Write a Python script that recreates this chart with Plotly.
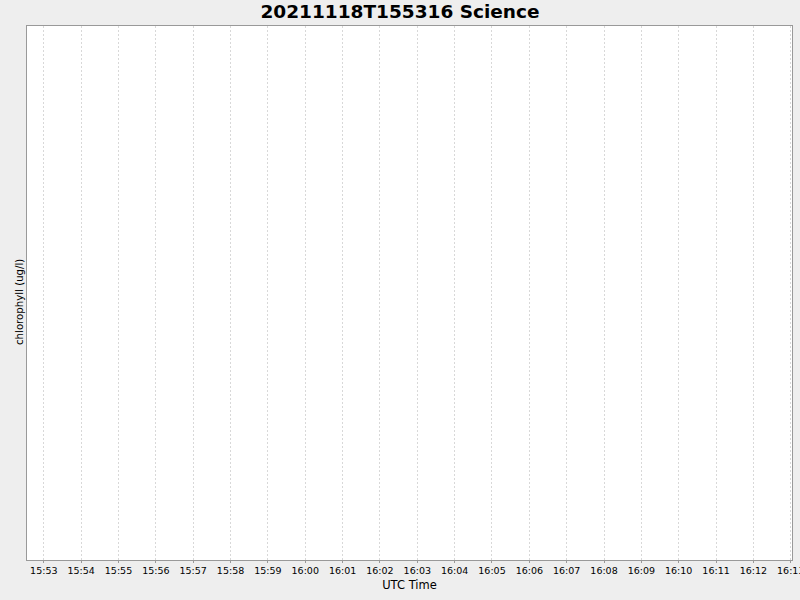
import plotly.graph_objects as go

# Data (the reference chart contains no plotted values)
times = []
chlorophyll = []

title_text = "20211118T155316 Science"
x_title = "UTC Time"
y_title = "chlorophyll (ug/l)"
x_start = "2021-11-18 15:52:33"
x_end = "2021-11-18 16:13:02"

W, H = 800, 600
ML, MR, MT, MB = 27, 8, 26, 40
plot_w = W - ML - MR
plot_h = H - MT - MB

fig = go.Figure()
fig.add_trace(go.Scatter(x=times, y=chlorophyll, mode="lines",
                         line=dict(color="#ff0000"), showlegend=False))

fig.update_layout(
    width=W, height=H,
    paper_bgcolor="#eeeeee",
    plot_bgcolor="#ffffff",
    margin=dict(l=ML, r=MR, t=MT, b=MB, autoexpand=False),
    title=dict(text=title_text, x=0.5, xanchor="center", y=1 - 12 / H, yanchor="middle",
               font=dict(family="DejaVu Sans", size=18.5, color="#000000", weight="bold")),
    font=dict(family="DejaVu Sans", color="#000000"),
    annotations=[dict(
        text=y_title, textangle=-90, showarrow=False,
        xref="paper", yref="paper",
        x=(19.5 - ML) / plot_w, y=(H - MB - 302.5) / plot_h,
        xanchor="center", yanchor="middle",
        font=dict(size=10.2, family="DejaVu Sans", color="#000000"),
    )],
)
fig.update_xaxes(
    type="date",
    range=[x_start, x_end],
    dtick=60000,
    tick0="2021-11-18 15:53:00",
    tickformat="%H:%M",
    ticks="outside", ticklen=2, tickcolor="#999999",
    tickfont=dict(size=9.5, family="DejaVu Sans"),
    ticklabeloverflow="allow",
    automargin=False,
    showgrid=True, gridcolor="#d8d8d8", griddash="2px,2px", gridwidth=1,
    showline=True, linecolor="#999999", linewidth=1, mirror=True,
    zeroline=False,
    title=dict(text=x_title, font=dict(size=11.5, family="DejaVu Sans"), standoff=5),
)
fig.update_yaxes(
    range=[0, 1],
    showticklabels=False, ticks="",
    automargin=False,
    showgrid=False, zeroline=False,
    showline=True, linecolor="#999999", linewidth=1, mirror=True,
)

fig.write_html(
    "out.html",
    config={"displayModeBar": False},
    post_script="document.body.style.margin='0';document.body.style.overflow='hidden';",
)
